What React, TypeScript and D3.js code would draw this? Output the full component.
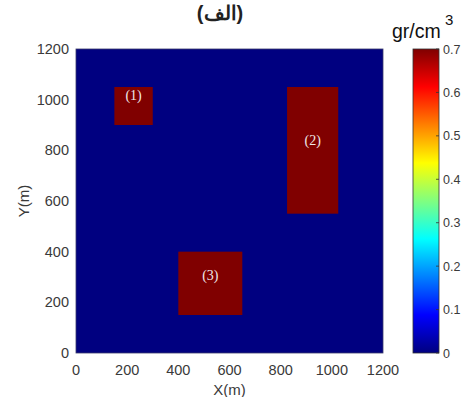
import React from "react";
import * as d3 from "d3";

// Model extent (m) and density range (gr/cm^3)
const xTicks = [0, 200, 400, 600, 800, 1000, 1200];
const yTicks = [0, 200, 400, 600, 800, 1000, 1200];
const cTicks = [0, 0.1, 0.2, 0.3, 0.4, 0.5, 0.6, 0.7];
const backgroundDensity = 0;

// Anomalous bodies
const bodyLabels = ["(1)", "(2)", "(3)"];
const bodyX0 = [150, 825, 400];
const bodyX1 = [300, 1025, 650];
const bodyY0 = [900, 550, 150];
const bodyY1 = [1050, 1050, 400];
const bodyDensity = [0.7, 0.7, 0.7];
// label anchors (m)
const labelX = [225, 925, 525];
const labelY = [1000, 820, 290];

// MATLAB-style jet colormap
function jet(t: number): string {
  const c = (v: number) => Math.max(0, Math.min(1, v));
  const r = c(1.5 - Math.abs(4 * t - 3));
  const g = c(1.5 - Math.abs(4 * t - 2));
  const b = c(1.5 - Math.abs(4 * t - 1));
  return d3.rgb(r * 255, g * 255, b * 255).formatHex();
}

export default function App() {
  const W = 462;
  const H = 397;
  const plot = { l: 76, r: 383, t: 49, b: 353 };
  const x = d3.scaleLinear().domain([0, 1200]).range([plot.l, plot.r]);
  const y = d3.scaleLinear().domain([0, 1200]).range([plot.b, plot.t]);
  const cDomain: [number, number] = [0, 0.7];
  const cNorm = d3.scaleLinear().domain(cDomain).range([0, 1]).clamp(true);
  const color = (v: number) => jet(cNorm(v));
  const cbar = { l: 413, r: 439, t: 49, b: 353 };
  const cy = d3.scaleLinear().domain(cDomain).range([cbar.b, cbar.t]);
  const stops = d3.range(0, 1.0001, 1 / 32);
  const font = "Arial, 'Liberation Sans', sans-serif";
  const textColor = "#3a3a3a";

  return (
    <svg
      width={W}
      height={H}
      style={{ position: "absolute", left: 0, top: 0, background: "#fff" }}
      fontFamily={font}
    >
      <defs>
        <linearGradient id="jetGrad" x1="0" y1="1" x2="0" y2="0">
          {stops.map((s, i) => (
            <stop key={i} offset={s} stopColor={jet(s)} />
          ))}
        </linearGradient>
      </defs>

      {/* title */}
      <text x={220} y={20} textAnchor="middle" fontSize={20} fontWeight="bold" fill="#222">
        (الف)
      </text>

      {/* density field */}
      <rect
        x={x(0)}
        y={y(1200)}
        width={x(1200) - x(0)}
        height={y(0) - y(1200)}
        fill={color(backgroundDensity)}
      />
      {bodyLabels.map((lab, i) => (
        <g key={lab}>
          <rect
            x={x(bodyX0[i])}
            y={y(bodyY1[i])}
            width={x(bodyX1[i]) - x(bodyX0[i])}
            height={y(bodyY0[i]) - y(bodyY1[i])}
            fill={color(bodyDensity[i])}
          />
          <text
            x={x(labelX[i])}
            y={y(labelY[i])}
            textAnchor="middle"
            fontFamily="'Liberation Serif', 'DejaVu Serif', serif"
            fontSize={14}
            fill="#f0e8e8"
          >
            {lab}
          </text>
        </g>
      ))}
      <rect
        x={plot.l}
        y={plot.t}
        width={plot.r - plot.l}
        height={plot.b - plot.t}
        fill="none"
        stroke="#3a3a6a"
        strokeWidth={0.8}
      />

      {/* x axis */}
      {xTicks.map((t) => (
        <text key={"x" + t} x={x(t)} y={375} textAnchor="middle" fontSize={14.5} fill={textColor}>
          {t}
        </text>
      ))}
      <text x={x(600)} y={395} textAnchor="middle" fontSize={15} fill={textColor}>
        X(m)
      </text>

      {/* y axis */}
      {yTicks.map((t) => (
        <text key={"y" + t} x={69} y={y(t) + 5} textAnchor="end" fontSize={14.5} fill={textColor}>
          {t}
        </text>
      ))}
      <text
        transform={`translate(29,${y(600)}) rotate(-90)`}
        textAnchor="middle"
        fontSize={15}
        fill={textColor}
      >
        Y(m)
      </text>

      {/* colorbar */}
      <rect
        x={cbar.l}
        y={cbar.t}
        width={cbar.r - cbar.l}
        height={cbar.b - cbar.t}
        fill="url(#jetGrad)"
        stroke="#333"
        strokeWidth={0.8}
      />
      {cTicks.map((t) => (
        <g key={"c" + t}>
          <line x1={cbar.r - 3} x2={cbar.r} y1={cy(t)} y2={cy(t)} stroke="#333" strokeWidth={0.8} />
          <text x={cbar.r + 4} y={cy(t) + 4.5} fontSize={12.5} fill={textColor}>
            {t}
          </text>
        </g>
      ))}
      <text x={392} y={38} fontSize={19.5} fill="#111">
        gr/cm
      </text>
      <text x={445} y={25} fontSize={15} fill="#111">
        3
      </text>
    </svg>
  );
}
